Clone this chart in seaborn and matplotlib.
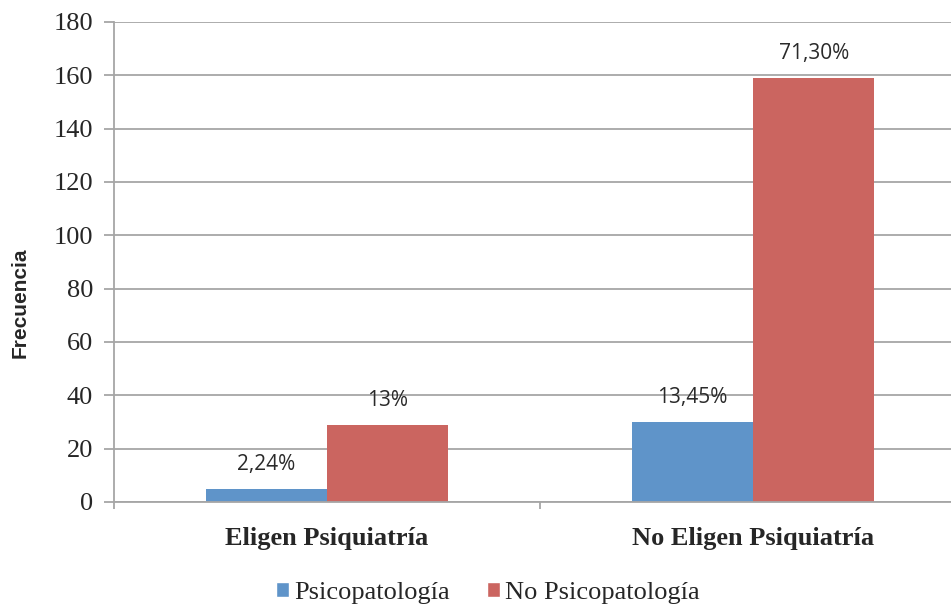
import pandas as pd
import matplotlib
matplotlib.use("Agg")
import matplotlib.pyplot as plt
import seaborn as sns
from matplotlib.patches import Patch

# chart values
grupos = ["Eligen Psiquiatría", "No Eligen Psiquiatría"]
series = ["Psicopatología", "No Psicopatología"]
psicopatologia = [5, 30]
no_psicopatologia = [29, 159]
etiquetas_psico = ["2,24%", "13,45%"]
etiquetas_no_psico = ["13%", "71,30%"]
colores = ["#5F94C9", "#CB6560"]

df = pd.DataFrame({
    "grupo": grupos * 2,
    "serie": [series[0]] * 2 + [series[1]] * 2,
    "frecuencia": psicopatologia + no_psicopatologia,
})

sns.set_style("white")
fig = plt.figure(figsize=(9.51, 6.09), dpi=100)
ax = fig.add_axes([114 / 951, 107 / 609, (951 - 114) / 951, 480 / 609])

sns.barplot(data=df, x="grupo", y="frecuencia", hue="serie", order=grupos,
            hue_order=series, palette=colores, width=0.57, gap=0,
            saturation=1, legend=False, linewidth=0, ax=ax)

grid_col = "#a6a6a6"
ax.set_ylim(0, 180)
ax.set_xlim(-0.5, -0.5 + 837 / 426)
ax.set_yticks(range(0, 181, 20))
ax.yaxis.grid(True, color=grid_col, linewidth=1.3)
ax.set_axisbelow(True)
for s in ["top", "right"]:
    ax.spines[s].set_visible(False)
for s in ["left", "bottom"]:
    ax.spines[s].set_color(grid_col)
    ax.spines[s].set_linewidth(1.3)

ax.tick_params(axis="y", which="major", left=True, length=7, width=1.3,
               color=grid_col, pad=8, labelsize=19)
ax.tick_params(axis="x", which="major", length=0, pad=18)
ax.set_xticks([-0.5, 0.5], minor=True)
ax.tick_params(axis="x", which="minor", bottom=True, length=5, width=1.3,
               color=grid_col)
for lab in ax.get_yticklabels():
    lab.set_fontfamily("Liberation Serif")
ax.set_xticklabels(grupos, fontfamily="Liberation Serif", fontweight="bold",
                   fontsize=19)
ax.set_xlabel("")
ax.set_ylabel("")

ax.bar_label(ax.containers[0], labels=etiquetas_psico, padding=10,
             fontfamily="Open Sans", fontsize=15, color="#2a2a2a")
ax.bar_label(ax.containers[1], labels=etiquetas_no_psico, padding=10,
             fontfamily="Open Sans", fontsize=15, color="#2a2a2a")

fig.text(20 / 951, 1 - 303 / 609, "Frecuencia", rotation=90, ha="center",
         va="center", fontfamily="Liberation Sans", fontweight="bold",
         fontsize=15)

handles = [Patch(facecolor=c, label=s) for c, s in zip(colores, series)]
fig.legend(handles=handles, loc="center", bbox_to_anchor=(0.513, 0.027),
           ncol=2, frameon=False, prop={"family": "Liberation Serif", "size": 19},
           handlelength=0.5, handleheight=0.5, handletextpad=0.2,
           columnspacing=1.4, borderpad=0, borderaxespad=0)

fig.savefig("out.png", dpi=100)
